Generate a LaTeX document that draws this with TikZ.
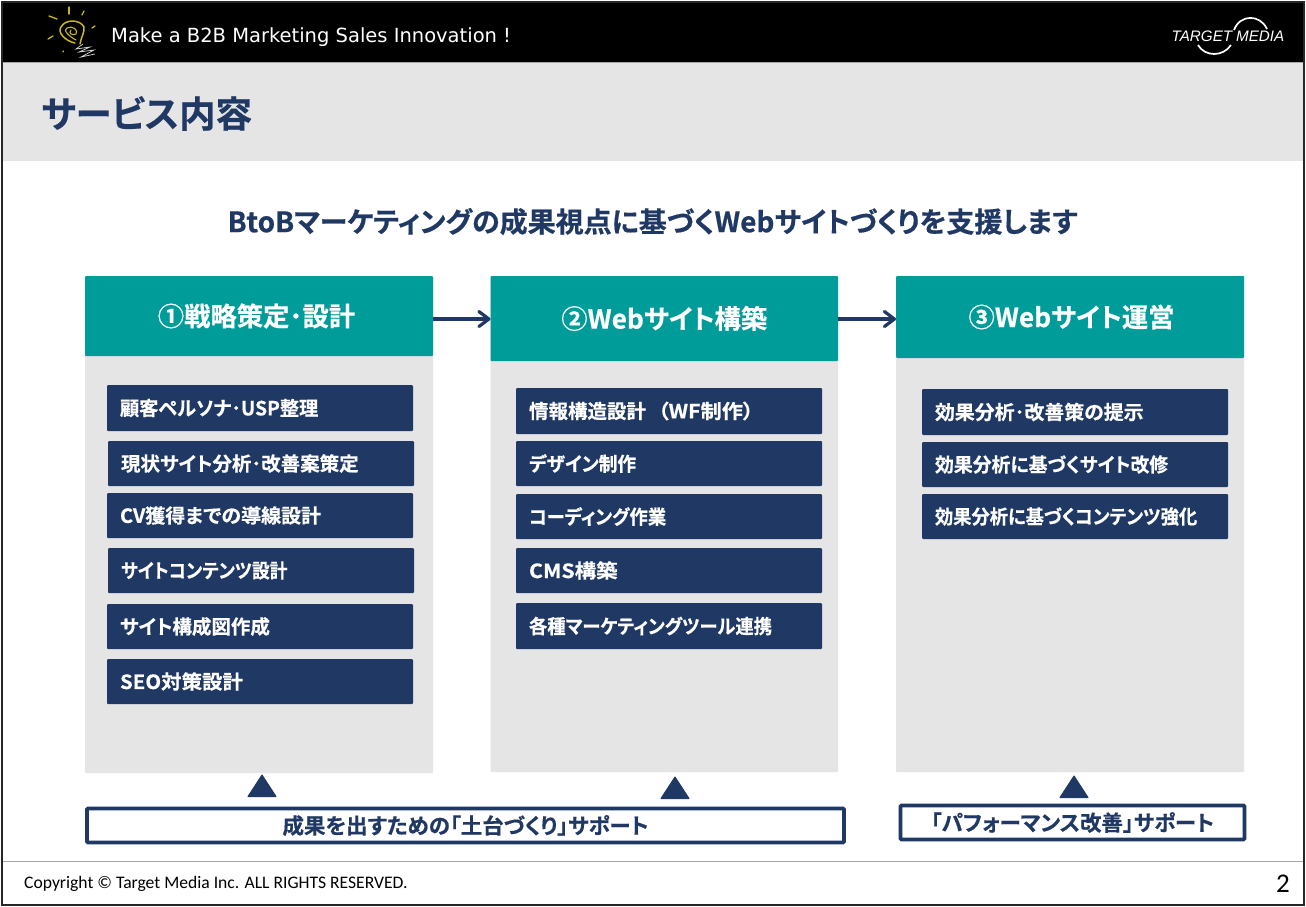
\documentclass[tikz,border=0pt]{standalone}
\usepackage{fontspec}
\setmainfont{Noto Sans CJK JP}[BoldFont={Noto Sans CJK JP Bold},BoldFeatures={FakeBold=0.5},RawFeature=+palt]
\newfontfamily\hdfont{DejaVu Sans}
\newfontfamily\ftfont{Carlito}
\newfontfamily\logofont{Liberation Sans}[ItalicFont={Liberation Sans Italic}]
\usetikzlibrary{arrows.meta}
\definecolor{navy}{HTML}{1F3864}
\definecolor{teal}{HTML}{009C9A}
\definecolor{pale}{HTML}{E5E5E5}
\definecolor{bulb}{HTML}{C8B820}
\newcommand\dn[1]{\raisebox{-2.5pt}{#1}}
\newcommand\nr[2]{\scalebox{#1}[1]{#2}}
\tikzset{
 panel/.style={fill=pale,draw=none,rounded corners=1pt},
 headbox/.style={fill=teal,draw=none,rounded corners=1pt,anchor=north west,inner sep=0pt,outer sep=0pt,text=white,font=\fontsize{26.3}{26}\selectfont\bfseries,align=center,minimum width=348pt},
 itembox/.style={fill=navy,draw=none,rounded corners=1pt,anchor=north west,inner sep=0pt,inner xsep=13pt,outer sep=0pt,text=white,font=\fontsize{19.5}{20}\selectfont\bfseries,align=left,minimum width=306pt,minimum height=46pt,text width=280pt},
 supbox/.style={fill=white,draw=navy,line width=3.6pt,rounded corners=1pt,anchor=north west,inner sep=0pt,outer sep=0pt,text=navy,font=\fontsize{21.5}{22}\selectfont\bfseries},
 tri/.style={fill=navy,draw=navy,line width=1pt,line join=round},
 flow/.style={draw=navy,line width=3.2pt,-{Straight Barb[length=10pt,width=15pt,line width=3.2pt,round]}},
 bulbln/.style={draw=bulb,line width=1.3pt,line cap=round},
}
\begin{document}
\begin{tikzpicture}[x=1pt,y=-1pt]
\useasboundingbox (0,0) rectangle (1306,906);
\fill[white] (0,0) rectangle (1306,906);
% top bar and title band
\fill[black] (2,2) rectangle (1304,62);
\fill[pale] (2,62) rectangle (1304,161);
\draw[gray!70,line width=1pt] (2,62) -- (1304,62);
% bulb logo
\draw[bulbln,line width=1.5pt] (75,43) .. controls (65,41) and (57,32) .. (61,27) .. controls (65,19) and (80,19) .. (84,27) .. controls (85,32) and (81,37) .. (80,44);
\draw[bulbln,line width=1.1pt] (76,40) .. controls (70,37) and (62,30) .. (67,28) .. controls (72,25) and (79,30) .. (76,34) .. controls (72,36) and (68,33) .. (71,30);
\draw[bulbln] (69,7) -- (69,14);
\draw[bulbln] (82,15) -- (84,11);
\draw[bulbln] (49,16) -- (57,19);
\draw[bulbln] (92,28) -- (95,26);
\draw[bulbln] (48,39) -- (53,36);
\draw[bulbln] (63,52) -- (63.5,51);
\draw[white!85!black,line width=.7pt] (83,44) -- (76,49) -- (90,47) -- (79,52) -- (94,50) -- (81,57) -- (95,54);
\node[anchor=west,inner sep=0pt,text=white,font=\hdfont\fontsize{19.5}{20}\selectfont] (tag) at (111,37) {Make a B2B Marketing Sales Innovation !};
% TARGET MEDIA logo
\node[anchor=center,inner sep=0pt,text=white,font=\logofont\itshape\fontsize{15.2}{16}\selectfont] (logo) at (1228,36.5) {TARGET\hspace{4pt}MEDIA};
\draw[white,line width=1.7pt] (1234,30) .. controls (1240,14) and (1260,14) .. (1267,29);
\draw[white,line width=1.7pt] (1198,45) .. controls (1205,57) and (1223,57) .. (1231,45);
% title
\node[anchor=west,inner sep=0pt,text=navy,font=\fontsize{36.5}{37}\selectfont\bfseries] (title) at (41,113.5) {サービス内容};
\node[inner sep=0pt,text=navy,font=\fontsize{28}{28}\selectfont\bfseries] (lead) at (652.5,221.5) {BtoBマーケティングの成果視点に基づくWebサイトづくりを支援します};
% panels
\fill[panel] (85,276) rectangle (433,773);
\fill[panel] (490.5,276) rectangle (838,772);
\fill[panel] (896,276) rectangle (1244,772);
% heads
\node[headbox,minimum height=80pt] (h1) at (85,276) {\dn{①戦略策定･設計}\hspace{5pt}};
\node[headbox,minimum height=85pt,minimum width=347.5pt] (h2) at (490.5,276) {\dn{②Webサイト構築}};
\node[headbox,minimum height=82pt] (h3) at (896,276) {\hspace{3pt}\dn{③Webサイト運営}};
\draw[flow] (h1.east |- 0,319) -- (h2.west |- 0,319);
\draw[flow] (h2.east |- 0,319) -- (h3.west |- 0,319);
% items column 1
\node[itembox] (c1a) at (107,385) {\nr{.985}{顧客ペルソナ･USP整理}};
\node[itembox,minimum height=45pt] (c1b) at (108,441) {現状サイト分析･改善案策定};
\node[itembox,minimum height=45pt] (c1c) at (107,493) {\nr{1.025}{CV獲得までの導線設計}};
\node[itembox,minimum height=45pt] (c1d) at (108,548) {\nr{.91}{サイトコンテンツ設計}};
\node[itembox,minimum height=45pt] (c1e) at (107,604) {サイト構成図作成};
\node[itembox,minimum height=45pt] (c1f) at (107,659) {\nr{1.05}{SEO対策設計}};
% items column 2
\node[itembox] (c2a) at (516,388) {情報構造設計\hspace{12pt}\nr{1.09}{（WF制作）}};
\node[itembox,minimum height=45pt] (c2b) at (516,441) {\nr{.955}{デザイン制作}};
\node[itembox,minimum height=45pt] (c2c) at (516,494) {\nr{.94}{コーディング作業}};
\node[itembox,minimum height=45pt] (c2d) at (516,548) {\nr{1.1}{CMS構築}};
\node[itembox] (c2e) at (516,603) {\nr{.94}{各種マーケティングツール連携}};
% items column 3
\node[itembox] (c3a) at (922,389) {\nr{1.02}{効果分析･改善策の提示}};
\node[itembox,minimum height=45pt] (c3b) at (922,442) {\nr{.967}{効果分析に基づくサイト改修}};
\node[itembox,minimum height=45pt] (c3c) at (922,494) {\nr{.936}{効果分析に基づくコンテンツ強化}};
% triangles
\fill[tri] (262,775) -- (248,796.5) -- (276,796.5) -- cycle;
\fill[tri] (675,777) -- (661,798.5) -- (689,798.5) -- cycle;
\fill[tri] (1074,776) -- (1060,797.5) -- (1088,797.5) -- cycle;
% support boxes
\node[supbox,minimum width=757pt,minimum height=34pt] (s1) at (87,808.5) {成果を出すための「土台づくり」サポート};
\node[supbox,minimum width=344pt,minimum height=34pt] (s2) at (900.5,805.5) {「パフォーマンス改善」サポート};
% footer
\draw[gray!70,line width=1pt] (2,861) -- (1304,861);
\node[anchor=west,inner sep=0pt,font=\ftfont\fontsize{17.6}{18}\selectfont] (copy) at (24,883.5) {Copyright © Target Media Inc. ALL RIGHTS RESERVED.};
\node[anchor=east,inner sep=0pt,font=\ftfont\fontsize{27}{28}\selectfont] (page) at (1290,884) {2};
% frame
\draw[black!85,line width=2pt] (2,2) rectangle (1304,904.5);
\end{tikzpicture}
\end{document}
